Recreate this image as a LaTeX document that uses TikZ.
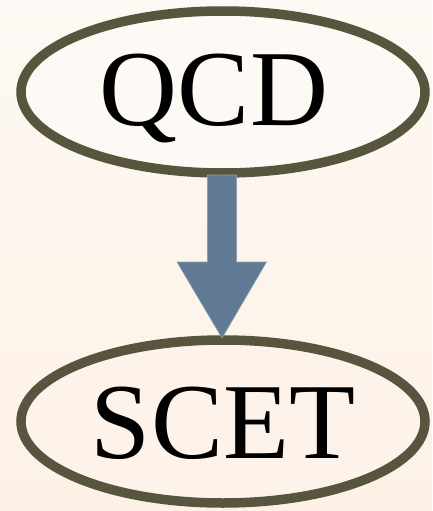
\documentclass[tikz,border=0pt]{standalone}
\usepackage{fontspec}
\setmainfont{Liberation Serif}
\definecolor{bgtop}{HTML}{FDF9F4}
\definecolor{bgbot}{HTML}{FDF1E5}
\definecolor{ringcol}{HTML}{57553D}
\definecolor{arrowcol}{HTML}{5F7A92}
\definecolor{arrowedge}{HTML}{8C9FB2}
\tikzset{
  ring/.style={draw=ringcol, line width=9.5pt, fill=bgtop!40!white, opacity=1},
  bigtext/.style={font=\fontsize{108}{120}\selectfont, text=black, anchor=base, inner sep=0pt},
  fatarrow/.style={fill=arrowcol, draw=arrowedge, line width=0.6pt, line join=miter}
}
\begin{document}
\begin{tikzpicture}[x=1pt,y=-1pt]
\shade[top color=bgtop, bottom color=bgbot] (0,0) rectangle (432,511);
\useasboundingbox (0,0) rectangle (432,511);
% ellipses
\draw[ring, fill=bgtop] (223,92) ellipse [x radius=202, y radius=81];
\draw[ring, fill=bgbot!70!bgtop] (223,421.5) ellipse [x radius=202, y radius=81.5];
\node[bigtext] (qcd) at (214,125) {QCD};
\node[bigtext] (scet) at (223,458) {SCET};
% arrow
\coordinate (a1) at (207.5,175);
\coordinate (a2) at (236.5,175);
\coordinate (a3) at (236.5,262);
\coordinate (a4) at (266.5,262);
\coordinate (tip) at (222,338);
\coordinate (a6) at (177,262);
\coordinate (a7) at (207.5,262);
\filldraw[fatarrow] (a1) -- (a2) -- (a3) -- (a4) -- (tip) -- (a6) -- (a7) -- cycle;
\end{tikzpicture}
\end{document}
